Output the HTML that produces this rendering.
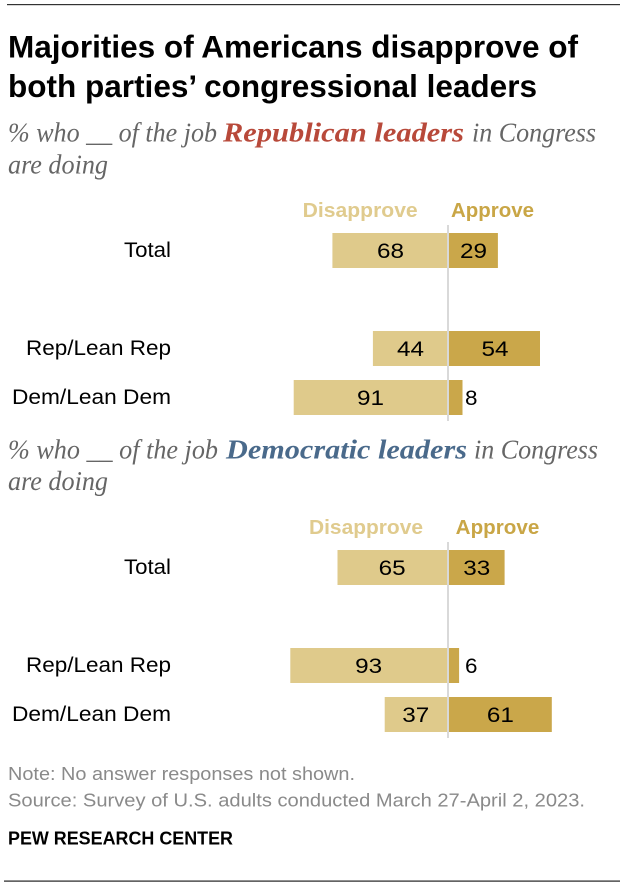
<!DOCTYPE html>
<html>
<head>
<meta charset="utf-8">
<style>
  html, body { margin: 0; padding: 0; background: #ffffff; }
  svg { display: block; }
  .title { font-family: "Liberation Sans", Arial, sans-serif; font-weight: bold; font-size: 31.5px; fill: #000; }
  .sub { font-family: "Liberation Serif", Georgia, serif; font-style: italic; font-size: 27px; fill: #666666; }
  .subR { font-family: "Liberation Serif", Georgia, serif; font-style: italic; font-weight: bold; font-size: 27px; fill: #b8493a; }
  .subD { font-family: "Liberation Serif", Georgia, serif; font-style: italic; font-weight: bold; font-size: 27px; fill: #4a6a8b; }
  .hdrD { font-family: "Liberation Sans", Arial, sans-serif; font-weight: bold; font-size: 20.5px; fill: #e0cb8e; }
  .hdrA { font-family: "Liberation Sans", Arial, sans-serif; font-weight: bold; font-size: 20.5px; fill: #c9a646; }
  .lbl { font-family: "Liberation Sans", Arial, sans-serif; font-size: 21px; fill: #000; }
  .num { font-family: "Liberation Sans", Arial, sans-serif; font-size: 21px; fill: #000; }
  .note { font-family: "Liberation Sans", Arial, sans-serif; font-size: 18px; fill: #8a8a8a; }
  .pew { font-family: "Liberation Sans", Arial, sans-serif; font-weight: bold; font-size: 18px; fill: #000; }
</style>
</head>
<body>
<svg width="620" height="888" viewBox="0 0 620 888" xmlns="http://www.w3.org/2000/svg">
  <rect x="0" y="0" width="620" height="888" fill="#ffffff"/>
  <!-- top rule -->
  <rect x="7" y="4" width="613" height="1.2" fill="#333333"/>

  <!-- Title -->
  <text class="title" x="8" y="57.5" textLength="570" lengthAdjust="spacingAndGlyphs">Majorities of Americans disapprove of</text>
  <text class="title" x="8" y="97" textLength="529" lengthAdjust="spacingAndGlyphs">both parties’ congressional leaders</text>

  <!-- Subtitle 1 -->
  <text class="sub" x="8" y="141.7" textLength="209" lengthAdjust="spacingAndGlyphs">% who __ of the job</text>
  <text class="subR" x="223" y="141.7" textLength="241" lengthAdjust="spacingAndGlyphs">Republican leaders</text>
  <text class="sub" x="472" y="141.7" textLength="124" lengthAdjust="spacingAndGlyphs">in Congress</text>
  <text class="sub" x="8" y="173.3" textLength="100" lengthAdjust="spacingAndGlyphs">are doing</text>

  <!-- Chart 1 headers -->
  <text class="hdrD" x="302.7" y="217" textLength="115" lengthAdjust="spacingAndGlyphs">Disapprove</text>
  <text class="hdrA" x="451" y="217" textLength="83" lengthAdjust="spacingAndGlyphs">Approve</text>

  <!-- Chart 1 bars -->
  <rect x="332.4" y="233" width="114.6" height="35" fill="#dfca8b"/>
  <rect x="449" y="233" width="48.9" height="35" fill="#caa74a"/>
  <rect x="372.9" y="331" width="74.1" height="35" fill="#dfca8b"/>
  <rect x="449" y="331" width="91" height="35" fill="#caa74a"/>
  <rect x="293.7" y="380" width="153.3" height="35" fill="#dfca8b"/>
  <rect x="449" y="380" width="13.5" height="35" fill="#caa74a"/>
  <rect x="447" y="225" width="2" height="196" fill="#d9d9d9"/>

  <!-- Chart 1 labels -->
  <text class="lbl" x="124" y="257" textLength="47" lengthAdjust="spacingAndGlyphs">Total</text>
  <text class="lbl" x="26" y="355" textLength="145" lengthAdjust="spacingAndGlyphs">Rep/Lean Rep</text>
  <text class="lbl" x="12" y="404" textLength="159" lengthAdjust="spacingAndGlyphs">Dem/Lean Dem</text>

  <!-- Chart 1 numbers -->
  <text class="num" x="377" y="258" textLength="27" lengthAdjust="spacingAndGlyphs">68</text>
  <text class="num" x="460" y="258" textLength="27" lengthAdjust="spacingAndGlyphs">29</text>
  <text class="num" x="397" y="356" textLength="27" lengthAdjust="spacingAndGlyphs">44</text>
  <text class="num" x="481.5" y="356" textLength="27" lengthAdjust="spacingAndGlyphs">54</text>
  <text class="num" x="357" y="405" textLength="27" lengthAdjust="spacingAndGlyphs">91</text>
  <text class="num" x="465" y="405" textLength="12.5" lengthAdjust="spacingAndGlyphs">8</text>

  <!-- Subtitle 2 -->
  <text class="sub" x="8" y="458.3" textLength="210" lengthAdjust="spacingAndGlyphs">% who __ of the job</text>
  <text class="subD" x="226" y="458.3" textLength="241" lengthAdjust="spacingAndGlyphs">Democratic leaders</text>
  <text class="sub" x="474" y="458.3" textLength="124" lengthAdjust="spacingAndGlyphs">in Congress</text>
  <text class="sub" x="8" y="490" textLength="100" lengthAdjust="spacingAndGlyphs">are doing</text>

  <!-- Chart 2 headers -->
  <text class="hdrD" x="309" y="534" textLength="114" lengthAdjust="spacingAndGlyphs">Disapprove</text>
  <text class="hdrA" x="455.7" y="534" textLength="83.6" lengthAdjust="spacingAndGlyphs">Approve</text>

  <!-- Chart 2 bars -->
  <rect x="337.5" y="550" width="109.5" height="35" fill="#dfca8b"/>
  <rect x="449" y="550" width="55.6" height="35" fill="#caa74a"/>
  <rect x="290.3" y="648" width="156.7" height="35" fill="#dfca8b"/>
  <rect x="449" y="648" width="10.1" height="35" fill="#caa74a"/>
  <rect x="384.7" y="697" width="62.3" height="35" fill="#dfca8b"/>
  <rect x="449" y="697" width="102.8" height="35" fill="#caa74a"/>
  <rect x="447" y="542" width="2" height="196" fill="#d9d9d9"/>

  <!-- Chart 2 labels -->
  <text class="lbl" x="124" y="574" textLength="47" lengthAdjust="spacingAndGlyphs">Total</text>
  <text class="lbl" x="26" y="672" textLength="145" lengthAdjust="spacingAndGlyphs">Rep/Lean Rep</text>
  <text class="lbl" x="12" y="721" textLength="159" lengthAdjust="spacingAndGlyphs">Dem/Lean Dem</text>

  <!-- Chart 2 numbers -->
  <text class="num" x="378.7" y="575" textLength="27" lengthAdjust="spacingAndGlyphs">65</text>
  <text class="num" x="463.3" y="575" textLength="27" lengthAdjust="spacingAndGlyphs">33</text>
  <text class="num" x="355.2" y="673" textLength="27" lengthAdjust="spacingAndGlyphs">93</text>
  <text class="num" x="465" y="673" textLength="12.5" lengthAdjust="spacingAndGlyphs">6</text>
  <text class="num" x="402.3" y="722" textLength="27" lengthAdjust="spacingAndGlyphs">37</text>
  <text class="num" x="486.9" y="722" textLength="27" lengthAdjust="spacingAndGlyphs">61</text>

  <!-- Footer -->
  <text class="note" x="8" y="780" textLength="347" lengthAdjust="spacingAndGlyphs">Note: No answer responses not shown.</text>
  <text class="note" x="8" y="806.7" textLength="577" lengthAdjust="spacingAndGlyphs">Source: Survey of U.S. adults conducted March 27-April 2, 2023.</text>
  <text class="pew" x="8" y="844.3" textLength="225" lengthAdjust="spacingAndGlyphs">PEW RESEARCH CENTER</text>

  <!-- bottom rule -->
  <rect x="4" y="880.5" width="616" height="1.2" fill="#222222"/>
</svg>
</body>
</html>
